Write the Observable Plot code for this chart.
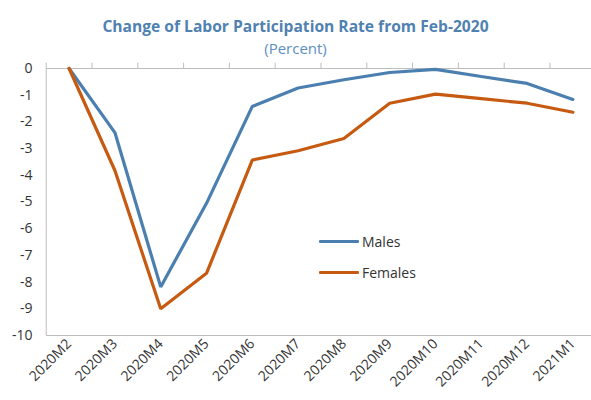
<!DOCTYPE html>
<html>
<head>
<meta charset="utf-8">
<script src="https://cdn.jsdelivr.net/npm/d3@7"></script>
<script src="https://cdn.jsdelivr.net/npm/@observablehq/plot@0.6"></script>
<style>
  body { margin: 0; background: #fff; font-family: "Open Sans", "Noto Sans", sans-serif; }
  #wrap { position: relative; width: 591px; height: 400px; overflow: hidden; }
  #head { height: 58px; text-align: center; color: #4f81b1; }
  #title { font-weight: bold; font-size: 15.6px; line-height: 20px; padding-top: 16px; }
  #sub { font-size: 15px; line-height: 20px; padding-top: 2px; color: #5b8fc0; }
  #legend { position: absolute; left: 319px; top: 226px; font-size: 14px; color: #333; }
  .item { display: flex; align-items: center; height: 31px; }
  .sw { width: 40px; height: 3px; margin-right: 3px; border-radius: 1px; }
</style>
</head>
<body>
<div id="wrap">
  <div id="head">
    <div id="title">Change of Labor Participation Rate from Feb-2020</div>
    <div id="sub">(Percent)</div>
  </div>
  <div id="chart"></div>
  <div id="legend"></div>
</div>
<script>
const months = ["2020M2","2020M3","2020M4","2020M5","2020M6","2020M7","2020M8","2020M9","2020M10","2020M11","2020M12","2021M1"];
const males   = [0, -2.40, -8.18, -5.05, -1.42, -0.73, -0.42, -0.15, -0.03, -0.30, -0.56, -1.16];
const females = [0, -3.82, -9.00, -7.67, -3.43, -3.08, -2.62, -1.30, -0.96, -1.13, -1.30, -1.64];
const yTicks = [0, -1, -2, -3, -4, -5, -6, -7, -8, -9, -10];
const seriesNames = ["Males", "Females"];
const colors = ["#4a7fb0", "#c65a11"];

const rows = [];
months.forEach((m, i) => {
  rows.push({month: m, value: males[i], series: seriesNames[0]});
  rows.push({month: m, value: females[i], series: seriesNames[1]});
});

const half = (572.4 - 68.6) / (months.length - 1) / 2;
const axisColor = "#bdbdbd";

const chart = Plot.plot({
  width: 591,
  height: 342,
  marginTop: 10,
  marginBottom: 65,
  marginLeft: 46,
  marginRight: 0,
  style: {fontFamily: "'Open Sans', 'Noto Sans', sans-serif", fontSize: "14px", color: "#333"},
  x: {type: "point", domain: months, range: [68.6, 572.4], padding: 0, round: false},
  y: {domain: [-10, 0], ticks: yTicks},
  color: {domain: seriesNames, range: colors},
  marks: [
    Plot.ruleY([0, -10], {stroke: axisColor, strokeWidth: 1}),
    Plot.ruleX(months.slice(0, 1), {x: d => d, dx: -half, y1: -10, y2: 0, stroke: axisColor}),
    Plot.ruleX(months, {x: d => d, dx: -half, y1: 0, y2: 0.2, stroke: axisColor}),
    Plot.axisY({ticks: yTicks, tickSize: 0, tickPadding: 14, label: null, fontSize: 14, tickFormat: d => String(d)}),
    Plot.axisX({tickSize: 0, tickPadding: 6, tickRotate: -45, label: null, fontSize: 14}),
    Plot.lineY(rows, {x: "month", y: "value", stroke: "series", strokeWidth: 3.2, strokeLinejoin: "miter"})
  ]
});
document.getElementById("chart").appendChild(chart);

const lg = document.getElementById("legend");
seriesNames.forEach((s, i) => {
  const it = document.createElement("div");
  it.className = "item";
  it.innerHTML = `<div class="sw" style="background:${colors[i]}"></div><span>${s}</span>`;
  lg.appendChild(it);
});
</script>
</body>
</html>
